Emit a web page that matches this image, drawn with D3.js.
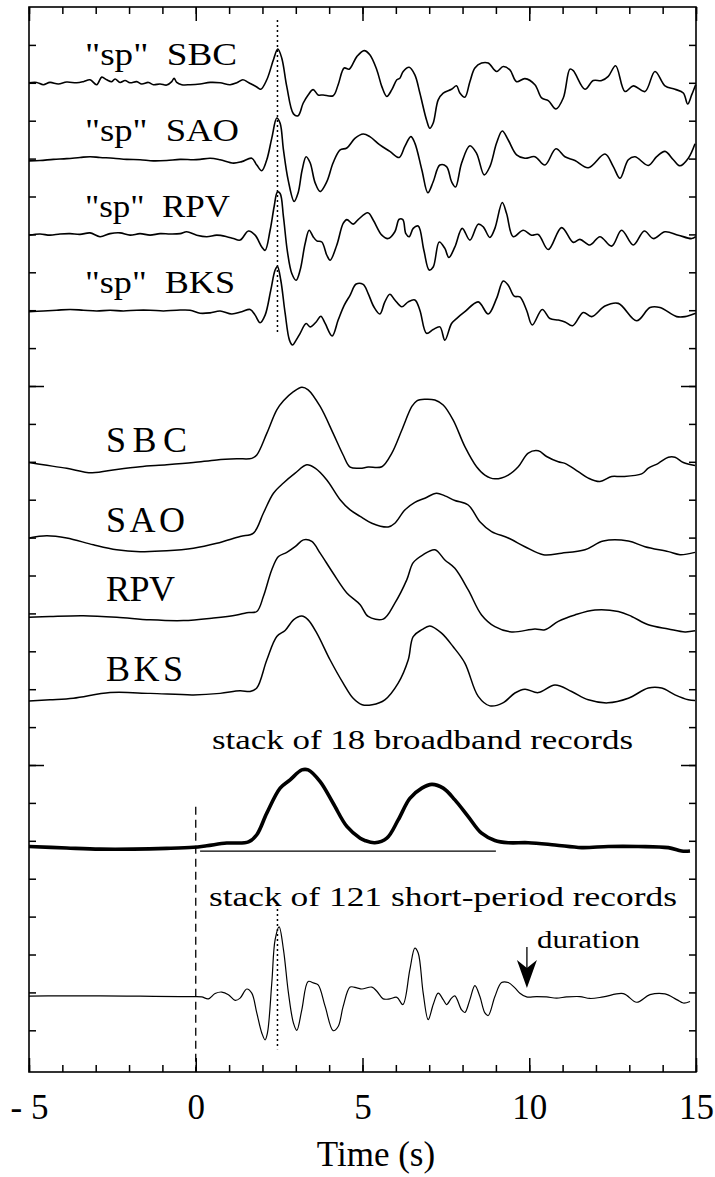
<!DOCTYPE html>
<html>
<head>
<meta charset="utf-8">
<title>Seismogram stacks</title>
<script src="https://cdn.jsdelivr.net/npm/d3@7"></script>
<style>
  body { margin: 0; background: #fff; }
  svg text { font-family: "Liberation Serif", serif; fill: #000; }
</style>
</head>
<body>
<svg width="715" height="1177"></svg>
<script>
// traces: [time (s), amplitude (tick units, up positive)]
const spSBC = [[-5,0],[-4.77,0.01],[-4.57,-0.05],[-4.37,0.01],[-4.12,-0.03],[-3.87,0.02],[-3.57,0],[-3.37,0.03],[-3.17,0.08],[-2.97,-0.05],[-2.82,0.15],[-2.67,0.08],[-2.52,0.03],[-2.42,0.1],[-2.27,0.01],[-2.12,0.06],[-1.97,0],[-1.77,0.03],[-1.62,-0.03],[-1.42,0.01],[-1.27,-0.05],[-1.07,-0.03],[-0.87,-0.06],[-0.72,0.03],[-0.65,0.12],[-0.57,0.01],[-0.42,-0.05],[-0.17,-0.05],[0.13,-0.03],[0.43,0.01],[0.73,0],[1.03,-0.05],[1.23,0],[1.41,0.08],[1.58,0.01],[1.83,-0.11],[1.95,-0.17],[2.13,0.08],[2.33,0.61],[2.46,0.89],[2.58,0.65],[2.73,-0.1],[2.93,-0.82],[3.07,-0.87],[3.22,-0.54],[3.37,-0.32],[3.52,-0.18],[3.67,-0.32],[3.82,-0.32],[4.12,-0.34],[4.27,-0.05],[4.45,0.39],[4.6,0.36],[4.83,0.69],[5.05,0.85],[5.22,0.74],[5.43,0.34],[5.58,-0.1],[5.73,-0.36],[5.88,-0.18],[6.03,0.08],[6.12,0.12],[6.22,0.3],[6.4,0.41],[6.57,0.21],[6.72,-0.27],[6.92,-0.98],[7.02,-1.2],[7.12,-1.06],[7.27,-0.45],[7.42,-0.27],[7.67,-0.17],[7.82,-0.08],[7.92,-0.27],[8.07,-0.38],[8.22,0.03],[8.37,0.39],[8.57,0.52],[8.77,0.52],[9.02,0.3],[9.22,0.43],[9.42,0.34],[9.62,0.03],[9.87,0.11],[10.17,-0.05],[10.37,-0.4],[10.57,-0.47],[10.8,-0.69],[11.02,-0.4],[11.22,0.36],[11.32,0.32],[11.67,-0.17],[11.92,0.06],[12.17,0.06],[12.37,0.17],[12.59,0.45],[12.87,-0.23],[13.12,-0.08],[13.47,-0.23],[13.77,0.3],[14.07,-0.08],[14.37,-0.17],[14.62,-0.27],[14.75,-0.56],[14.87,-0.32],[14.99,-0.05]];
const spSAO = [[-5,0],[-4.67,0.01],[-4.27,0.04],[-3.87,0.06],[-3.47,0.09],[-3.17,0.11],[-2.87,0.09],[-2.47,0.07],[-2.07,0.04],[-1.67,0.03],[-1.27,0],[-0.87,0.01],[-0.47,0.04],[-0.07,0.03],[0.13,0.04],[0.43,0.07],[0.73,0.03],[1.13,-0.06],[1.38,-0.02],[1.68,0.07],[1.83,-0.11],[1.98,-0.26],[2.13,0.03],[2.28,0.6],[2.43,1.13],[2.53,0.99],[2.63,0.29],[2.77,-0.5],[2.95,-1.07],[3.07,-0.84],[3.19,-0.24],[3.31,0.11],[3.43,-0.05],[3.58,-0.58],[3.73,-0.81],[3.93,-0.55],[4.12,-0.05],[4.33,0.29],[4.53,0.34],[4.78,0.6],[5.02,0.71],[5.22,0.64],[5.52,0.42],[5.82,0.25],[6.1,0.09],[6.27,0.38],[6.45,0.64],[6.57,0.47],[6.78,-0.24],[6.96,-0.84],[7.12,-0.55],[7.32,-0.11],[7.52,-0.15],[7.67,-0.55],[7.79,-0.69],[7.97,-0.06],[8.22,0.4],[8.42,0.2],[8.65,-0.37],[8.82,-0.15],[9.02,0.47],[9.19,0.79],[9.37,0.55],[9.62,0.16],[9.87,0.07],[10.17,0.11],[10.47,-0.11],[10.8,0.32],[11.07,0.11],[11.37,0.01],[11.77,-0.18],[12.27,0.18],[12.52,-0.15],[12.72,-0.46],[12.97,0.03],[13.17,0.11],[13.57,-0.12],[13.82,0.11],[14.07,0.25],[14.32,0.03],[14.52,-0.13],[14.77,0.07],[14.97,0.45]];
const spRPV = [[-5,0],[-4.67,0.03],[-4.37,0],[-4.07,0.03],[-3.77,0.04],[-3.47,0.02],[-3.17,0.06],[-2.87,-0.04],[-2.57,0.04],[-2.27,0.06],[-1.97,0],[-1.67,0.04],[-1.37,0],[-1.07,0.04],[-0.77,0.03],[-0.47,0.04],[-0.27,0.09],[0.03,0],[0.33,-0.04],[0.63,0],[0.93,-0.04],[1.13,-0.09],[1.33,-0.13],[1.58,0.11],[1.78,0],[1.98,-0.31],[2.08,-0.4],[2.23,0.13],[2.35,0.75],[2.45,1.14],[2.53,1.1],[2.63,0.48],[2.75,-0.44],[2.88,-1.01],[3.01,-1.19],[3.13,-0.92],[3.28,-0.22],[3.4,0.13],[3.52,-0.04],[3.63,-0.15],[3.78,-0.18],[3.93,-0.53],[4.03,-0.66],[4.23,-0.26],[4.42,0.31],[4.53,0.41],[4.72,0.29],[4.87,0.41],[5.16,0.59],[5.32,0.4],[5.58,0],[5.77,-0.09],[5.97,0.09],[6.1,0.42],[6.21,0.41],[6.3,0.04],[6.4,-0.04],[6.52,0.18],[6.67,0.24],[6.84,-0.4],[7.0,-0.92],[7.12,-0.84],[7.3,-0.18],[7.47,-0.35],[7.59,-0.59],[7.77,-0.31],[7.99,0.18],[8.22,-0.13],[8.47,0.29],[8.62,0.22],[8.82,-0.06],[8.97,0.18],[9.19,0.86],[9.32,0.57],[9.52,-0.04],[9.82,0.13],[10.07,0],[10.27,0.02],[10.57,-0.38],[10.97,0.2],[11.32,-0.19],[11.52,-0.11],[11.82,-0.26],[12.12,-0.04],[12.47,-0.29],[12.77,0.13],[13.12,-0.26],[13.45,0.11],[13.72,-0.09],[14.07,0.09],[14.47,0],[14.87,-0.09],[14.99,-0.04]];
const spBKS = [[-5,0.01],[-4.57,0.03],[-4.17,0.05],[-3.77,0.07],[-3.37,0.05],[-2.97,0.03],[-2.57,0.05],[-2.17,0.03],[-1.77,0.05],[-1.37,0.05],[-0.97,0.03],[-0.57,0.05],[-0.17,0.05],[0.13,-0.03],[0.43,-0.02],[0.73,0.03],[1.08,-0.05],[1.38,0.01],[1.63,0.07],[1.78,-0.08],[1.93,-0.28],[2.08,-0.08],[2.25,0.58],[2.38,1.11],[2.45,1.2],[2.55,0.84],[2.68,-0.03],[2.81,-0.74],[2.9,-0.87],[3.01,-0.74],[3.13,-0.56],[3.31,-0.3],[3.43,-0.39],[3.61,-0.26],[3.75,-0.11],[3.88,-0.3],[4.09,-0.63],[4.27,-0.21],[4.45,0.18],[4.63,0.45],[4.81,0.74],[5.02,0.73],[5.17,0.49],[5.34,0.14],[5.52,-0.05],[5.67,0.27],[5.82,0.47],[5.97,0.32],[6.18,0.14],[6.37,0.27],[6.57,0.32],[6.72,0.05],[6.92,-0.56],[7.12,-0.46],[7.32,-0.39],[7.47,-0.74],[7.67,-0.3],[7.82,-0.17],[8.07,0.01],[8.47,0.27],[8.77,-0.05],[9.02,0.36],[9.22,0.82],[9.37,0.71],[9.55,0.42],[9.72,0.4],[9.92,0.05],[10.09,-0.34],[10.39,0.07],[10.62,-0.17],[10.87,-0.21],[11.07,-0.26],[11.3,-0.36],[11.62,-0.01],[11.87,-0.12],[12.27,0.16],[12.67,0.23],[13.22,-0.23],[13.62,0.12],[13.92,0.12],[14.42,-0.12],[14.67,-0.12],[14.99,-0.03]];
const bbSBC = [[-5,0.01],[-4.57,-0.05],[-3.87,-0.14],[-3.12,-0.26],[-2.37,-0.17],[-1.67,-0.1],[-0.87,-0.05],[-0.07,0.01],[0.63,0.08],[1.23,0.11],[1.68,0.12],[1.83,0.21],[2.13,0.78],[2.43,1.4],[2.63,1.64],[2.93,1.88],[3.18,2.0],[3.37,1.93],[3.73,1.49],[4.12,0.78],[4.42,0.21],[4.63,-0.11],[4.93,-0.14],[5.17,-0.11],[5.58,-0.1],[5.88,0.26],[6.18,0.87],[6.48,1.49],[6.63,1.64],[6.87,1.68],[7.17,1.66],[7.42,1.53],[7.72,1.13],[8.07,0.43],[8.42,-0.1],[8.67,-0.32],[8.97,-0.42],[9.37,-0.32],[9.67,-0.1],[9.97,0.26],[10.27,0.32],[10.52,0.17],[10.87,0.03],[11.07,-0.01],[11.47,-0.23],[11.77,-0.4],[12.12,-0.49],[12.47,-0.36],[12.77,-0.36],[13.37,-0.29],[13.57,-0.14],[13.87,-0.01],[14.17,0.15],[14.37,0.15],[14.62,0.01],[14.97,-0.07]];
const bbSAO = [[-5,-0.03],[-4.47,0.03],[-3.87,-0.03],[-3.07,-0.21],[-2.37,-0.34],[-1.67,-0.39],[-0.87,-0.37],[-0.07,-0.3],[0.63,-0.17],[1.33,0.01],[1.73,0.1],[2.03,0.63],[2.33,1.15],[2.63,1.42],[2.98,1.68],[3.33,1.9],[3.58,1.81],[3.93,1.5],[4.33,0.98],[4.63,0.71],[4.93,0.54],[5.28,0.36],[5.77,0.26],[5.97,0.36],[6.27,0.71],[6.57,0.91],[6.87,1.02],[7.22,1.15],[7.47,1.08],[7.77,0.96],[8.17,0.84],[8.52,0.4],[8.87,0.14],[9.37,-0.03],[9.87,-0.26],[10.42,-0.47],[10.97,-0.43],[11.67,-0.34],[12.22,-0.11],[12.97,-0.11],[13.47,-0.26],[14.17,-0.39],[14.52,-0.47],[14.97,-0.41]];
const bbRPV = [[-5,-0.01],[-4.37,0.01],[-3.37,0.03],[-2.37,-0.01],[-1.37,-0.08],[-0.37,-0.1],[0.53,-0.03],[1.23,0.05],[1.53,0.11],[1.83,0.14],[2.03,0.54],[2.28,1.24],[2.48,1.59],[2.73,1.7],[2.98,1.85],[3.23,2.03],[3.48,1.99],[3.73,1.68],[4.12,1.15],[4.53,0.63],[4.93,0.32],[5.17,0.01],[5.62,-0.06],[5.97,0.36],[6.33,0.98],[6.52,1.43],[6.82,1.64],[7.17,1.77],[7.47,1.5],[7.77,1.28],[8.17,0.71],[8.57,0.05],[8.97,-0.26],[9.47,-0.4],[10.17,-0.32],[10.47,-0.34],[10.87,-0.12],[11.37,0.05],[11.97,0.18],[12.67,0.14],[13.07,0.01],[13.57,-0.21],[14.17,-0.32],[14.67,-0.4],[14.97,-0.37]];
const bbBKS = [[-5,-0.16],[-4.37,-0.13],[-3.67,-0.09],[-2.57,0.06],[-1.37,0.04],[-0.07,0],[0.73,0.04],[1.33,0.11],[1.63,0.09],[1.83,0.18],[2.13,0.92],[2.43,1.54],[2.68,1.7],[2.93,1.98],[3.18,2.08],[3.37,1.98],[3.63,1.63],[4.03,0.92],[4.42,0.31],[4.72,-0.09],[4.99,-0.26],[5.29,-0.26],[5.67,-0.13],[6.07,0.31],[6.37,0.92],[6.52,1.54],[6.78,1.72],[7.02,1.82],[7.37,1.63],[7.72,1.27],[8.07,0.84],[8.47,-0.04],[8.82,-0.29],[9.21,-0.21],[9.57,0.05],[9.87,0.15],[10.27,0.06],[10.77,0.26],[11.27,0.09],[11.77,-0.13],[12.36,-0.21],[12.97,-0.09],[13.57,0.18],[13.97,0.18],[14.37,0],[14.77,-0.13],[14.97,-0.15]];
const stackBB = [[-5,0.01],[-3.87,-0.03],[-2.87,-0.06],[-1.87,-0.06],[-0.87,-0.04],[-0.07,-0.01],[0.33,0.03],[0.93,0.1],[1.58,0.13],[1.83,0.32],[2.13,0.89],[2.53,1.55],[2.83,1.77],[3.18,2.03],[3.37,2.03],[3.73,1.72],[4.12,1.15],[4.53,0.54],[4.93,0.23],[5.07,0.17],[5.37,0.11],[5.73,0.23],[6.07,0.71],[6.42,1.28],[6.78,1.55],[7.08,1.65],[7.42,1.55],[7.77,1.24],[8.17,0.8],[8.57,0.36],[8.97,0.17],[9.37,0.11],[9.97,0.11],[10.77,0.05],[11.57,-0.02],[12.37,0.01],[13.27,0.01],[14.17,-0.02],[14.57,-0.11],[14.82,-0.11]];
const stackSP = [[-5,0],[-4.07,0.01],[-2.87,0.01],[-1.67,0],[-0.47,-0.01],[-0.02,-0.01],[0.18,-0.02],[0.38,-0.07],[0.58,0.07],[0.78,0.11],[0.98,0.04],[1.18,-0.11],[1.33,-0.05],[1.53,0.19],[1.68,0.08],[1.83,-0.44],[1.98,-0.97],[2.08,-1.15],[2.15,-0.97],[2.28,0.35],[2.38,1.49],[2.5,1.83],[2.63,1.23],[2.78,0.08],[2.93,-0.71],[3.03,-0.9],[3.18,-0.36],[3.37,0.39],[3.53,0.35],[3.67,0.3],[3.88,-0.27],[4.12,-0.91],[4.27,-0.8],[4.42,-0.27],[4.63,0.24],[4.83,0.22],[4.98,0.19],[5.28,0.24],[5.43,0.13],[5.62,-0.07],[5.82,-0.07],[6.03,-0.03],[6.21,-0.22],[6.42,0.7],[6.57,1.27],[6.67,1.14],[6.82,0.08],[6.97,-0.62],[7.12,-0.22],[7.27,0.08],[7.42,-0.09],[7.52,-0.22],[7.67,-0.05],[7.77,0.01],[7.97,-0.36],[8.07,-0.43],[8.22,-0.09],[8.37,0.28],[8.52,-0.01],[8.67,-0.44],[8.77,-0.51],[8.97,-0.01],[9.17,0.36],[9.37,0.36],[9.57,0.22],[9.72,0.08],[9.92,-0.02],[10.22,-0.01],[10.52,-0.02],[10.82,-0.05],[11.12,-0.02],[11.52,-0.01],[11.82,-0.06],[12.22,-0.02],[12.82,0.07],[13.22,-0.16],[13.62,0.04],[14.07,0.06],[14.42,-0.09],[14.62,-0.18],[14.82,-0.14]];

// trace baselines (y units from top of frame) and line widths
const traces = [spSBC, spSAO, spRPV, spBKS, bbSBC, bbSAO, bbRPV, bbBKS, stackBB, stackSP];
const traceOffsets = [2.0, 4.06, 6.02, 8.05, 12.03, 13.98, 16.09, 18.15, 22.16, 26.1];
const traceWidths = [1.6, 1.6, 1.6, 1.6, 1.5, 1.5, 1.5, 1.5, 3.6, 1.2];

const spLabels = ['"sp" SBC', '"sp" SAO', '"sp" RPV', '"sp" BKS'];
const bbLabels = ["SBC", "SAO", "RPV", "BKS"];
const stackLabels = ["stack of 18 broadband records", "stack of 121 short-period records"];
const xTickValues = [-5, 0, 5, 10, 15];
const xTickLabels = ["- 5", "0", "5", "10", "15"];
const pickTime = 2.45;      // dotted line
const durationTime = 9.93;  // arrow
const bbSpan = [0.13, 9.0]; // thin line under broadband stack

const serif = "'Liberation Serif', 'DejaVu Serif', serif";
const svg = d3.select("svg");
const frameL = 29, frameR = 696, frameT = 7, frameB = 1072;

const x = d3.scaleLinear().domain([-5, 15]).range([frameL, frameR]);
const y = d3.scaleLinear().domain([0, 28.1]).range([frameT, frameB]);

const line = d3.line()
    .x(function (d) { return x(d[0]); })
    .y(function (d) { return d[1]; })
    .curve(d3.curveCatmullRom.alpha(0.5));

function label(px, py, size, str) {
    return svg.append("text")
        .attr("x", px).attr("y", py)
        .attr("font-size", size)
        .attr("font-family", serif)
        .style("font-family", serif)
        .text(str);
}

// frame
svg.append("rect")
    .attr("x", frameL).attr("y", frameT)
    .attr("width", frameR - frameL).attr("height", frameB - frameT)
    .attr("fill", "none").attr("stroke", "#000").attr("stroke-width", 1.6);

// ticks on all four sides, pointing in
const minorX = d3.range(-5, 16, 1);
const minorY = d3.range(1, 28, 1);
const majorY = [10, 20];

function cleanAxis(g) {
    g.select(".domain").remove();
    g.selectAll(".tick line").attr("stroke", "#000").attr("stroke-width", 1.5);
}

svg.append("g").attr("transform", "translate(0," + frameB + ")")
    .call(d3.axisBottom(x).tickValues(minorX).tickSize(-7).tickFormat(""))
    .call(cleanAxis);
svg.append("g").attr("transform", "translate(0," + frameT + ")")
    .call(d3.axisTop(x).tickValues(minorX).tickSize(-7).tickFormat(""))
    .call(cleanAxis);
svg.append("g").attr("transform", "translate(0," + frameT + ")")
    .call(d3.axisTop(x).tickValues(xTickValues).tickSize(-14).tickFormat(""))
    .call(cleanAxis);

const bottomMajor = svg.append("g").attr("transform", "translate(0," + frameB + ")")
    .call(d3.axisBottom(x).tickValues(xTickValues).tickSize(-14).tickPadding(22)
        .tickFormat(function (d, i) { return xTickLabels[i]; }))
    .call(cleanAxis);
bottomMajor.attr("font-family", serif);
bottomMajor.selectAll("text")
    .attr("font-size", 35)
    .style("font-family", serif)
    .attr("dy", "0.71em")
    .attr("fill", "#000");

svg.append("g").attr("transform", "translate(" + frameL + ",0)")
    .call(d3.axisLeft(y).tickValues(minorY).tickSize(-7).tickFormat(""))
    .call(cleanAxis);
svg.append("g").attr("transform", "translate(" + frameL + ",0)")
    .call(d3.axisLeft(y).tickValues(majorY).tickSize(-15).tickFormat(""))
    .call(cleanAxis);
svg.append("g").attr("transform", "translate(" + frameR + ",0)")
    .call(d3.axisRight(y).tickValues(minorY).tickSize(-7).tickFormat(""))
    .call(cleanAxis);
svg.append("g").attr("transform", "translate(" + frameR + ",0)")
    .call(d3.axisRight(y).tickValues(majorY).tickSize(-15).tickFormat(""))
    .call(cleanAxis);

// axis title
label(376, 1166, 35, "Time (s)").attr("text-anchor", "middle");

// reference lines
svg.append("line")
    .attr("x1", x(pickTime)).attr("x2", x(pickTime))
    .attr("y1", y(0.34)).attr("y2", y(8.6))
    .attr("stroke", "#000").attr("stroke-width", 1.5)
    .attr("stroke-dasharray", "2,3");
svg.append("line")
    .attr("x1", x(pickTime)).attr("x2", x(pickTime))
    .attr("y1", y(23.8)).attr("y2", y(27.5))
    .attr("stroke", "#000").attr("stroke-width", 1.5)
    .attr("stroke-dasharray", "2,3");
svg.append("line")
    .attr("x1", x(0)).attr("x2", x(0))
    .attr("y1", y(21.1)).attr("y2", frameB)
    .attr("stroke", "#000").attr("stroke-width", 1.3)
    .attr("stroke-dasharray", "8,5");
svg.append("line")
    .attr("x1", x(bbSpan[0])).attr("x2", x(bbSpan[1]))
    .attr("y1", y(22.27)).attr("y2", y(22.27))
    .attr("stroke", "#000").attr("stroke-width", 1.2);

// traces
traces.forEach(function (tr, i) {
    svg.append("path")
        .datum(tr.map(function (d) { return [d[0], y(traceOffsets[i] - d[1])]; }))
        .attr("d", line)
        .attr("fill", "none")
        .attr("stroke", "#000")
        .attr("stroke-width", traceWidths[i])
        .attr("stroke-linejoin", "round");
});

// labels
const spBase = [65, 141, 217, 293];
const spWidth = [152, 154, 145, 150];
spLabels.forEach(function (s, i) {
    label(85, spBase[i], 32, s.replace(" ", "\u00a0\u00a0"))
        .attr("textLength", spWidth[i])
        .attr("lengthAdjust", "spacingAndGlyphs");
});
const bbBase = [452, 532, 601, 681];
const bbWidth = [81, 79, 69, 77];
bbLabels.forEach(function (s, i) {
    label(106, bbBase[i], 36, s)
        .attr("textLength", bbWidth[i])
        .attr("lengthAdjust", "spacing");
});
label(212, 749, 27, stackLabels[0])
    .attr("textLength", 421)
    .attr("lengthAdjust", "spacingAndGlyphs");
label(209, 906, 27, stackLabels[1])
    .attr("textLength", 468)
    .attr("lengthAdjust", "spacingAndGlyphs");

// duration arrow
const ax = x(durationTime);
svg.append("line")
    .attr("x1", ax).attr("x2", ax)
    .attr("y1", 947).attr("y2", 975)
    .attr("stroke", "#000").attr("stroke-width", 1.3);
svg.append("path")
    .attr("d", "M" + (ax - 10) + ",960 L" + ax + ",988 L" + (ax + 10) + ",960 L" + ax + ",968 Z")
    .attr("fill", "#000");
label(537, 948, 26, "duration")
    .attr("textLength", 103)
    .attr("lengthAdjust", "spacingAndGlyphs");
</script>
</body>
</html>
